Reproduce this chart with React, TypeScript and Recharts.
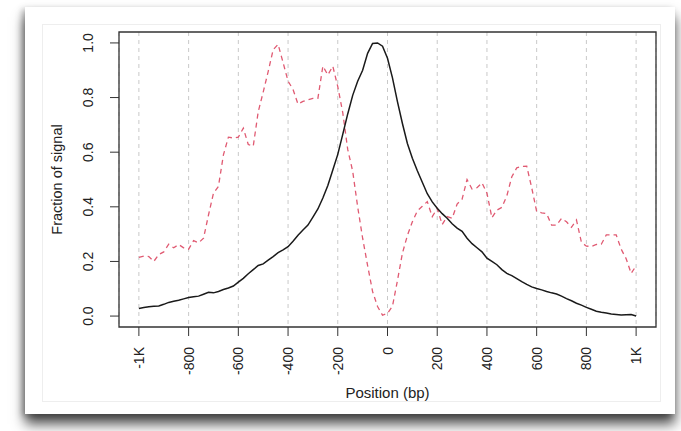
import React from 'react';
import {
  LineChart, Line, XAxis, YAxis, CartesianGrid, ReferenceArea, Label,
} from 'recharts';

// positions in bp, one bin per 20 bp
const positions = [
  -1000, -980, -960, -940, -920, -900, -880, -860, -840, -820,
  -800, -780, -760, -740, -720, -700, -680, -660, -640, -620,
  -600, -580, -560, -540, -520, -500, -480, -460, -440, -420,
  -400, -380, -360, -340, -320, -300, -280, -260, -240, -220,
  -200, -180, -160, -140, -120, -100, -80, -60, -40, -20,
  0, 20, 40, 60, 80, 100, 120, 140, 160, 180,
  200, 220, 240, 260, 280, 300, 320, 340, 360, 380,
  400, 420, 440, 460, 480, 500, 520, 540, 560, 580,
  600, 620, 640, 660, 680, 700, 720, 740, 760, 780,
  800, 820, 840, 860, 880, 900, 920, 940, 960, 980,
  1000,
];

// solid black profile
const blackSignal = [
  0.028, 0.031, 0.034, 0.036, 0.037, 0.043, 0.05, 0.054, 0.058, 0.063,
  0.068, 0.071, 0.073, 0.08, 0.087, 0.085, 0.09, 0.097, 0.103, 0.11,
  0.124, 0.138, 0.155, 0.17, 0.185, 0.191, 0.205, 0.218, 0.232, 0.242,
  0.254, 0.274, 0.296, 0.315, 0.333, 0.362, 0.392, 0.432, 0.478, 0.535,
  0.592, 0.665, 0.74, 0.808, 0.86, 0.9, 0.962, 0.998, 1.0, 0.988,
  0.944, 0.872, 0.785, 0.705, 0.632, 0.578, 0.532, 0.49, 0.448, 0.418,
  0.395, 0.375, 0.358, 0.338, 0.322, 0.31, 0.285, 0.265, 0.25, 0.235,
  0.212, 0.2, 0.188, 0.17, 0.156, 0.148, 0.137, 0.126, 0.116, 0.107,
  0.101, 0.096, 0.09, 0.085, 0.081, 0.073, 0.064, 0.056, 0.047, 0.04,
  0.032, 0.025, 0.018, 0.014, 0.011, 0.008, 0.006, 0.004, 0.005, 0.006,
  0.0,
];

// dashed red profile
const redSignal = [
  0.215, 0.22, 0.218, 0.2, 0.225, 0.235, 0.263, 0.25, 0.262, 0.25,
  0.245, 0.276, 0.268, 0.285, 0.37, 0.45, 0.475, 0.59, 0.655, 0.652,
  0.655, 0.688, 0.628, 0.622, 0.748, 0.82, 0.895, 0.975, 0.995, 0.928,
  0.86, 0.83, 0.776, 0.786, 0.792, 0.797, 0.797, 0.915, 0.883, 0.915,
  0.84, 0.745, 0.61, 0.53, 0.4, 0.285, 0.185, 0.09, 0.035, 0.003,
  0.01, 0.036, 0.13, 0.23, 0.295, 0.345, 0.385, 0.402, 0.419, 0.364,
  0.394, 0.335, 0.364, 0.358, 0.41, 0.428, 0.5, 0.465, 0.47, 0.488,
  0.45, 0.36, 0.388, 0.398, 0.44, 0.51, 0.543, 0.548, 0.549, 0.47,
  0.383, 0.378, 0.375, 0.333, 0.333, 0.358, 0.345, 0.325, 0.352, 0.27,
  0.256, 0.255, 0.262, 0.263, 0.297, 0.297, 0.297, 0.245, 0.21, 0.156,
  0.184,
];

const xTicks = [-1000, -800, -600, -400, -200, 0, 200, 400, 600, 800, 1000];
const yTicks = [0, 0.2, 0.4, 0.6, 0.8, 1.0];

const data = positions.map((pos, i) => ({
  pos,
  black: blackSignal[i],
  red: redSignal[i],
}));

const FONT = '"Liberation Sans", Arial, Helvetica, sans-serif';

function fmtPos(v: number) {
  if (v === -1000) return '-1K';
  if (v === 1000) return '1K';
  return String(v);
}

function XTick(props: any) {
  const { x, y, payload } = props;
  return (
    <text
      x={x} y={y} dy="0.36em" textAnchor="end"
      transform={`rotate(-90, ${x}, ${y})`}
      fontFamily={FONT} fontSize={14} fill="#222"
    >
      {fmtPos(payload.value)}
    </text>
  );
}

function YTick(props: any) {
  const { x, y, payload } = props;
  return (
    <text
      x={x} y={y} textAnchor="middle"
      transform={`rotate(-90, ${x}, ${y})`}
      fontFamily={FONT} fontSize={14} fill="#222"
    >
      {Number(payload.value).toFixed(1)}
    </text>
  );
}

export default function App() {
  return (
    <div style={{ position: 'absolute', left: 0, top: 0, width: 681, height: 431, background: '#fff', overflow: 'hidden' }}>
      <div style={{
        position: 'absolute', left: 25, top: 7, width: 650, height: 407, background: '#fff',
        boxShadow: '0 10px 12px rgba(0,0,0,0.7), -3px 2px 6px rgba(0,0,0,0.25)',
      }} />
      <div style={{ position: 'absolute', left: 42, top: 24, width: 617, height: 376, border: '1px solid #eeeeee' }} />
      <div style={{ position: 'absolute', left: 0, top: 0 }}>
        <LineChart width={681} height={431} data={data} margin={{ top: 32, right: 25, left: 0, bottom: 0 }}>
          <CartesianGrid horizontal={false} stroke="#c9c9c9" strokeDasharray="4 4" />
          <XAxis
            dataKey="pos" type="number" domain={[-1080, 1080]} ticks={xTicks} interval={0}
            allowDataOverflow height={104} axisLine={false}
            tickSize={9} tickMargin={11} tickLine={{ stroke: '#333', strokeWidth: 1 }}
            tick={<XTick />}
          >
            <Label
              content={(p: any) => {
                const vb = p.viewBox;
                return (
                  <text x={vb.x + vb.width / 2} y={vb.y + 71} textAnchor="middle" fontFamily={FONT} fontSize={15} fill="#222">
                    Position (bp)
                  </text>
                );
              }}
            />
          </XAxis>
          <YAxis
            type="number" domain={[-0.04, 1.04]} ticks={yTicks} interval={0}
            allowDataOverflow width={119} axisLine={false}
            tickSize={9} tickMargin={17} tickLine={{ stroke: '#333', strokeWidth: 1 }}
            tick={<YTick />}
          >
            <Label
              content={(p: any) => {
                const vb = p.viewBox;
                const cx = vb.x + 62;
                const cy = vb.y + vb.height / 2;
                return (
                  <text x={cx} y={cy} textAnchor="middle" transform={`rotate(-90, ${cx}, ${cy})`} fontFamily={FONT} fontSize={14.5} fill="#222">
                    Fraction of signal
                  </text>
                );
              }}
            />
          </YAxis>
          <Line
            type="linear" dataKey="red" stroke="#E05A72" strokeWidth={1.3} strokeDasharray="5 4"
            dot={false} isAnimationActive={false}
          />
          <Line
            type="linear" dataKey="black" stroke="#1a1a1a" strokeWidth={1.5}
            dot={false} isAnimationActive={false}
          />
          <ReferenceArea
            x1={-1080} x2={1080} y1={-0.04} y2={1.04}
            fill="none" fillOpacity={0} stroke="#333" strokeWidth={1.3} ifOverflow="visible"
          />
        </LineChart>
      </div>
    </div>
  );
}
